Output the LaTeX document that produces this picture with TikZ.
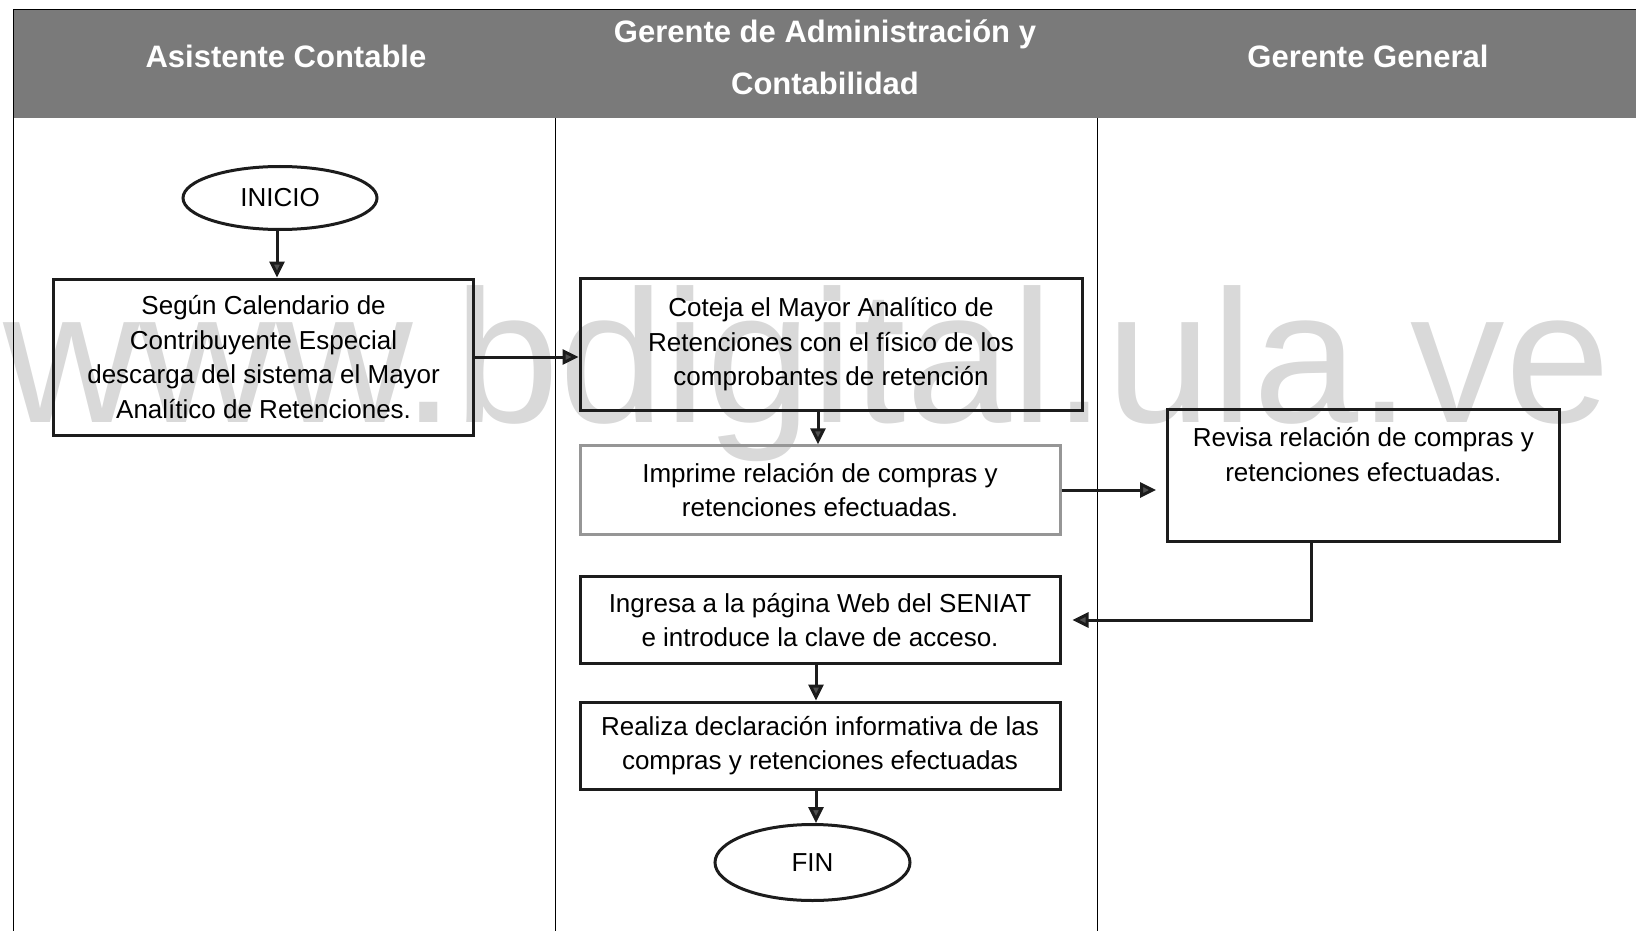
\documentclass[tikz,border=0pt]{standalone}
\usepackage{fontspec}
\setmainfont{Liberation Sans}
\usetikzlibrary{arrows.meta,shapes.geometric}

\definecolor{wmgray}{RGB}{217,217,217}
\definecolor{bandgray}{RGB}{122,122,122}
\definecolor{inkgray}{RGB}{28,28,28}
\definecolor{softedge}{RGB}{150,150,150}
\definecolor{tipfill}{RGB}{80,80,80}

\begin{document}
\begin{tikzpicture}[x=1pt,y=-1pt,
  lane/.style={draw=black, line width=1pt},
  headtext/.style={text=white, font=\fontsize{31}{52}\selectfont\bfseries, align=center, inner sep=0pt},
  boxfont/.style={font=\fontsize{26}{34.4}\selectfont},
  procbox/.style={boxfont, draw=inkgray, line width=3pt, rectangle, align=center, inner sep=0pt},
  terminal/.style={boxfont, draw=inkgray, line width=3pt, ellipse, inner sep=0pt},
  flow/.style={draw=inkgray, line width=3pt,
    -{Triangle[length=16pt,width=15pt,fill=tipfill]}},
]
\useasboundingbox (0,0) rectangle (1636,931);

% site mark behind the chart
\node[anchor=base west, inner sep=0pt, text=wmgray,
      font=\fontsize{189}{189}\selectfont] (sitemark) at (3,422) {www.bdigital.ula.ve};

% header band and swimlane rules
\fill[bandgray] (13,10) rectangle (1636,118);
\draw[line width=1pt] (13,118) -- (13,10) -- (1636,10);
\draw[lane] (13,118) -- (13,931);
\draw[lane] (555,118) -- (555,931);
\draw[lane] (1097,118) -- (1097,931);

\node[headtext] (laneA) at (286,56) {Asistente Contable};
\node[headtext] (laneB) at (825,57) {Gerente de Administración y\\Contabilidad};
\node[headtext] (laneC) at (1368,56) {Gerente General};

% steps
\node[terminal, minimum width=194pt, minimum height=63pt] (inicio) at (280,198) {INICIO};
\node[procbox, minimum width=420pt, minimum height=156pt] (calendario) at (263.6,357)
  {Según Calendario de\\Contribuyente Especial\\descarga del sistema el Mayor\\Analítico de Retenciones.};
\node[procbox, minimum width=502pt, minimum height=131.5pt] (coteja) at (831,344.3)
  {Coteja el Mayor Analítico de\\Retenciones con el físico de los\\comprobantes de retención};
\node[procbox, draw=softedge, minimum width=480pt, minimum height=88.5pt] (imprime) at (820,490)
  {Imprime relación de compras y\\retenciones efectuadas.};
\node[procbox, minimum width=391.4pt, minimum height=132.5pt] (revisa) at (1363.3,475.3) {};
\node[boxfont, anchor=north, align=center, inner sep=0pt] (revisatext) at (1363.3,427.5)
  {Revisa relación de compras y\\retenciones efectuadas.};
\node[procbox, minimum width=480pt, minimum height=87.6pt] (ingresa) at (820,620)
  {Ingresa a la página Web del SENIAT\\e introduce la clave de acceso.};
\node[procbox, minimum width=480pt, minimum height=87pt] (realiza) at (820,745.5)
  {Realiza declaración informativa de las\\compras y retenciones efectuadas};
\node[terminal, minimum width=195pt, minimum height=76pt] (fin) at (812.5,862.5) {FIN};

% connectors
\draw[flow] ([xshift=-3pt]inicio.south) -- ([xshift=-3pt]inicio.south |- calendario.north);
\draw[flow] (calendario.east) -- (calendario.east -| coteja.west);
\draw[flow] ([xshift=-2pt]imprime.north |- coteja.south) -- ([xshift=-2pt]imprime.north);
\draw[flow, shorten >=10pt] (imprime.east) -- (imprime.east -| revisa.west);
\draw[flow, shorten >=11pt] ([xshift=-52pt]revisa.south) |- (ingresa.east);
\draw[flow] ([xshift=-4pt]ingresa.south) -- ([xshift=-4pt]realiza.north);
\draw[flow] ([xshift=-4pt]realiza.south) -- ([xshift=-4pt]realiza.south |- fin.north);
\end{tikzpicture}
\end{document}
